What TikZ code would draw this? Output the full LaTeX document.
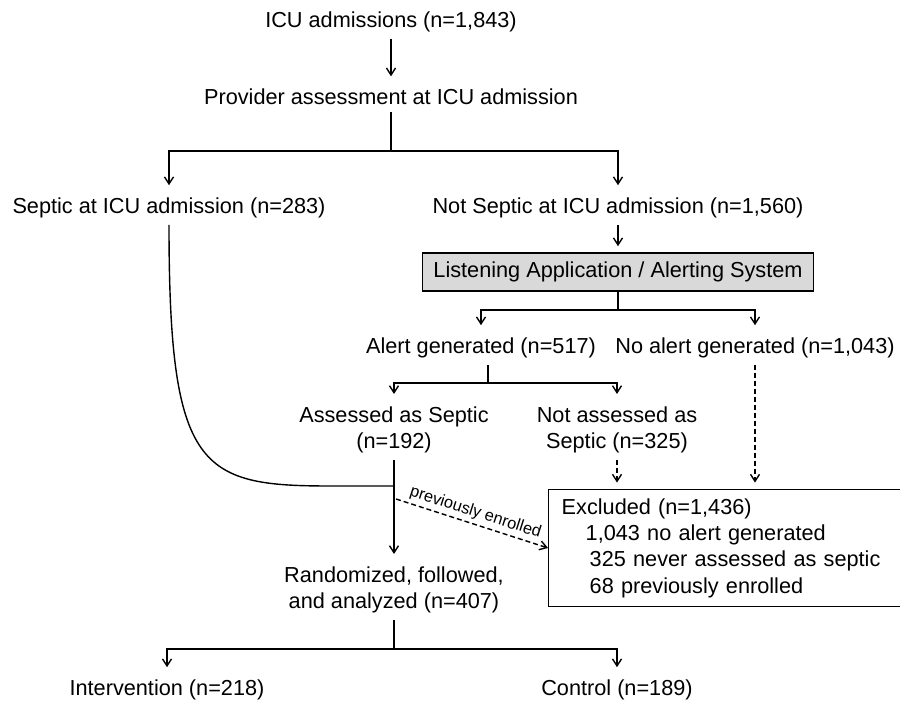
\documentclass[tikz,border=0pt]{standalone}
\usepackage{fontspec}
\setmainfont{Liberation Sans}
\usetikzlibrary{arrows.meta}
\begin{document}
\begin{tikzpicture}[x=0.5pt,y=-0.5pt,
  font=\fontsize{10.85}{13.2}\selectfont,
  line width=0.7pt,
  >={Straight Barb[length=3.5pt,width=4.5pt]},
  every node/.style={inner sep=3pt},
  arr/.style={->,shorten >=3pt},
  dsh/.style={dash pattern=on 2.5pt off 1.5pt},
  graybox/.style={draw,fill=black!15,inner xsep=5.5pt,inner ysep=4.5pt},
  exclbox/.style={draw,align=left,text width=185pt,inner xsep=6.5pt,inner ysep=4.5pt}]
\useasboundingbox (0,0) rectangle (900,704);
\node
(icu) at (391,22) {ICU admissions (n=1,843)};
\node
(prov) at (391,97) {Provider assessment at ICU admission};
\node
(septic) at (169,208) {Septic at ICU admission (n=283)};
\node
(notseptic) at (618,208) {Not Septic at ICU admission (n=1,560)};
\node[graybox]
(las) at (618,272) {Listening Application / Alerting System};
\node
(alert) at (481,348) {Alert generated (n=517)};
\node
(noalert) at (755,348) {No alert generated (n=1,043)};
\node[align=center]
(assessed) at (394,430) {Assessed as Septic\\(n=192)};
\node[align=center]
(notassessed) at (617,430) {Not assessed as\\Septic (n=325)};
\node[align=center]
(rand) at (394,590) {Randomized, followed,\\and analyzed (n=407)};
\node[exclbox,anchor=west]
(excl) at (548,548) {Excluded (n=1,436)\\
\hspace*{12pt}1,043 no alert generated\\
\hspace*{14pt}325 never assessed as septic\\
\hspace*{14pt}68 previously enrolled};
\node
(interv) at (167,690) {Intervention (n=218)};
\node
(ctrl) at (617,690) {Control (n=189)};
\coordinate (split1) at (391,151);
\coordinate (split2) at (618,310);
\coordinate (split3) at (488,383);
\coordinate (join) at (394,486);
\coordinate (branch) at (396,499);
\coordinate (split4) at (394,649);
% top part
\draw[arr](icu) -- (prov);
\draw(prov) -- (split1);
\draw[arr](split1) -| (septic.north);
\draw[arr](split1) -| (notseptic.north);
\draw[arr](notseptic) -- (las);
% alerting system
\draw(las) -- (split2);
\draw[arr](split2) -| (alert.north);
\draw[arr](split2) -| (noalert.north);
\draw(alert.south -| split3) -- (split3);
\draw[arr](split3) -| (assessed.north);
\draw[arr](split3) -| (notassessed.north);
% excluded
\draw[arr,dsh](noalert.south) -- (noalert.south |- excl.north);
\draw[arr,dsh](notassessed.south) -- (notassessed.south |- excl.north);
% randomized
\draw(septic.south) .. controls (169,470) and (200,486) .. (330,486) -- (join);
\draw[arr](assessed) -- (rand);
\draw[->,dsh](branch) -- (excl.west)
  node[midway,above,sloped,inner sep=1.5pt,font=\fontsize{8.2}{9}\selectfont] {previously enrolled};
\draw(rand) -- (split4);
\draw[arr](split4) -| (interv.north);
\draw[arr](split4) -| (ctrl.north);
\end{tikzpicture}
\end{document}
